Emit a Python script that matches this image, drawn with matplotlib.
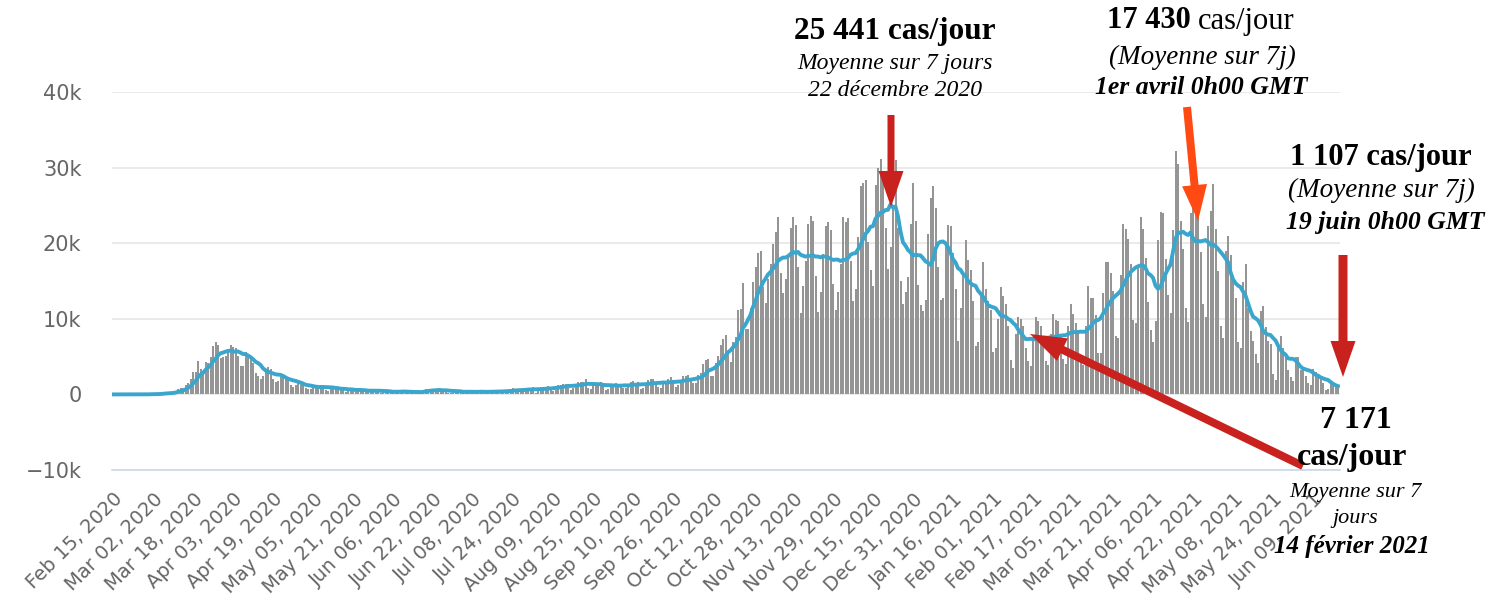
import pandas as pd
import matplotlib.pyplot as plt
from matplotlib.patches import FancyArrow

start_date = '2020-02-15'

# daily new cases, one row per week (Saturday -> Friday)
new_cases = [
    0, 0, 0, 0, 0, 0, 0,
    0, 0, 0, 2, 10, 20, 26,
    13, 51, 29, 38, 66, 138, 281,
    200, 186, 149, 281, 451, 740, 848,
    910, 1210, 1480, 1990, 2900, 2960, 4400,
    3300, 2800, 4300, 4200, 5000, 6400, 6900,
    6500, 4800, 4900, 5100, 5700, 6600, 6300,
    6100, 5100, 3800, 3800, 5600, 5300, 4900,
    4100, 2800, 2500, 2100, 2500, 3400, 3600,
    3300, 2000, 1700, 1800, 2300, 2400, 2300,
    2000, 1200, 1000, 1300, 1600, 1600, 1400,
    900, 700, 700, 800, 1100, 1300, 1200,
    1100, 600, 500, 900, 800, 900, 1000,
    600, 550, 350, 500, 800, 700, 600,
    650, 400, 300, 400, 400, 700, 600,
    750, 300, 200, 300, 350, 500, 400,
    400, 300, 200, 350, 550, 400, 300,
    250, 200, 190, 400, 350, 600, 770,
    600, 530, 450, 500, 600, 580, 480,
    690, 250, 250, 350, 450, 500, 400,
    250, 240, 240, 400, 400, 450, 400,
    380, 160, 200, 400, 450, 530, 500,
    400, 200, 250, 550, 580, 570, 800,
    780, 300, 400, 630, 690, 900, 870,
    950, 250, 500, 800, 800, 1000, 1150,
    1000, 450, 600, 1200, 1250, 1400, 1400,
    1400, 600, 800, 1300, 1600, 1600, 1700,
    2000, 800, 700, 1300, 1500, 1500, 1600,
    1400, 600, 700, 1200, 1300, 1500, 1400,
    1400, 800, 800, 1100, 1600, 1800, 1500,
    1600, 700, 900, 1400, 1900, 2000, 2100,
    1400, 1000, 900, 1800, 1800, 2100, 2300,
    1700, 1000, 1200, 1800, 2500, 2500, 2600,
    2000, 1500, 1500, 2600, 2800, 4000, 4600,
    4700, 2500, 2500, 4100, 5100, 6600, 7300,
    7800, 5600, 4300, 6900, 7600, 11200, 11300,
    14700, 8700, 8700, 11400, 14900, 16800, 18700,
    19000, 14200, 12100, 15300, 17200, 19900, 21500,
    23400, 16000, 13400, 15300, 18400, 22000, 23500,
    22400, 16900, 10800, 14400, 17600, 22600, 23600,
    22900, 15700, 10900, 13600, 18600, 22300, 22800,
    21700, 14600, 11200, 13600, 17300, 23400, 22800,
    23300, 17700, 12300, 14000, 20800, 27500, 28000,
    28400, 20200, 16400, 14400, 27700, 30000, 31200,
    29000, 22000, 16600, 19500, 24700, 31000, 22000,
    15000, 12000, 13500, 15500, 22500, 28000, 22900,
    14500, 11800, 11000, 12500, 21200, 26000, 27500,
    24700, 16900, 12500, 12800, 19600, 22400, 22300,
    18700, 13900, 7100, 11400, 15900, 20400, 17800,
    16400, 12300, 6400, 6900, 13200, 17500, 14000,
    12300, 11200, 5600, 6100, 10000, 14200, 13000,
    12000, 9000, 4500, 3500, 8000, 10200, 10000,
    9000, 6100, 4400, 3800, 7600, 10200, 9700,
    9100, 7600, 4400, 3900, 8000, 10600, 9900,
    9700, 7900, 4700, 4000, 9000, 11900, 10600,
    9500, 8100, 5000, 3900, 9100, 14300, 12800,
    12700, 10500, 5500, 5500, 13400, 17500, 17500,
    16000, 13700, 7700, 7500, 15800, 22600, 21900,
    20500, 17200, 9900, 9500, 17000, 23400, 21900,
    18100, 12200, 8500, 6900, 9700, 20400, 24100,
    24000, 17900, 13200, 10800, 21700, 32200, 30500,
    23000, 19200, 11400, 9600, 24000, 27000, 27500,
    23400, 18800, 11900, 10300, 22300, 24300, 27800,
    21900, 16300, 9100, 7500, 19000, 21000, 18500,
    15200, 12700, 6900, 6100, 14900, 17200, 11400,
    8400, 7100, 5400, 4200, 11000, 11700, 8900,
    7100, 6700, 2700, 1900, 6300, 7700, 6200,
    5400, 3200, 2300, 1800, 4900, 5000, 3200,
    3600, 2400, 1500, 1200, 3300, 3000, 2400,
    2000, 1500, 550, 650, 1450, 1300, 1100,
    1100,
]

y_ticks = [-10000, 0, 10000, 20000, 30000, 40000]
y_labels = ['\u221210k', '0', '10k', '20k', '30k', '40k']
tick_step = 16

RED = '#c9211e'
ORANGE = '#ff4b13'
SERIF = 'Liberation Serif'

dates = pd.date_range(start_date, periods=len(new_cases), freq='D')
days = list(range(len(new_cases)))
avg7 = pd.Series(new_cases).rolling(7, min_periods=1).mean()

W, H = 1494, 610
fig = plt.figure(figsize=(W / 100, H / 100), dpi=100)
ax = fig.add_axes([112 / W, 140 / H, 1228 / W, 378 / H])

ax.bar(days, new_cases, width=0.8, color='#959595', zorder=2)
ax.plot(days, avg7, color='#3aa6cd', lw=2.8, zorder=3)

ax.set_xlim(-0.4, 490.8)
ax.set_ylim(-10000, 40000)
ax.set_yticks(y_ticks, y_labels)
ax.set_xticks(days[::tick_step], [d.strftime('%b %d, %Y') for d in dates[::tick_step]])
ax.yaxis.grid(True, color='#e6e6e6', lw=1.2)
ax.set_axisbelow(True)
for s in ['top', 'right', 'left']:
    ax.spines[s].set_visible(False)
ax.spines['bottom'].set_color('#ccd6eb')
ax.spines['bottom'].set_linewidth(1.2)
ax.tick_params(axis='y', length=0, pad=22, labelsize=15, labelcolor='#666666')
ax.tick_params(axis='x', length=0, pad=14, labelsize=14, labelcolor='#666666')
for lbl in ax.get_xticklabels():
    lbl.set_rotation(45)
    lbl.set_ha('right')
    lbl.set_va('top')
    lbl.set_rotation_mode('anchor')

# overlay in pixel units for the annotations
ov = fig.add_axes([0, 0, 1, 1], zorder=5)
ov.set_xlim(0, W)
ov.set_ylim(H, 0)
ov.axis('off')

def txt(x, y, s, size, weight='normal', style='normal', ha='center'):
    ov.text(x, y, s, fontsize=size, fontweight=weight, fontstyle=style,
            family=SERIF, ha=ha, va='center', color='black')

def arrow(x0, y0, x1, y1, color, width=7):
    ov.add_patch(FancyArrow(x0, y0, x1 - x0, y1 - y0, width=width, head_width=25,
                            head_length=36, length_includes_head=True,
                            color=color, lw=0))

# 22 December peak
txt(895, 32, '25 441 cas/jour', 22.5, weight='bold')
txt(895, 63, 'Moyenne sur 7 jours', 17, style='italic')
txt(895, 90, '22 décembre 2020', 17, style='italic')
arrow(891, 115, 891, 207, RED)

# 1 April
txt(1191, 21, '17 430', 22, weight='bold', ha='right')
txt(1198, 21, 'cas/jour', 22, ha='left')
txt(1202, 57, '(Moyenne sur 7j)', 19.5, style='italic')
txt(1201, 88, '1er avril 0h00 GMT', 18.5, weight='bold', style='italic')
arrow(1187, 107, 1198, 221, ORANGE, width=8)

# 19 June
txt(1381, 158, '1 107 cas/jour', 22, weight='bold')
txt(1381, 190, '(Moyenne sur 7j)', 19.5, style='italic')
txt(1385, 222, '19 juin 0h00 GMT', 18.5, weight='bold', style='italic')
arrow(1343, 255, 1343, 377, RED, width=9)

# 14 February
txt(1356, 420, '7 171', 23, weight='bold')
txt(1352, 458, 'cas/jour', 23, weight='bold')
txt(1355, 493, 'Moyenne sur 7', 16, style='italic')
txt(1355, 518, 'jours', 16, style='italic')
txt(1352, 546, '14 février 2021', 18, weight='bold', style='italic')
arrow(1303, 466, 1030, 334, RED, width=8)

fig.savefig('out.png', dpi=100)
